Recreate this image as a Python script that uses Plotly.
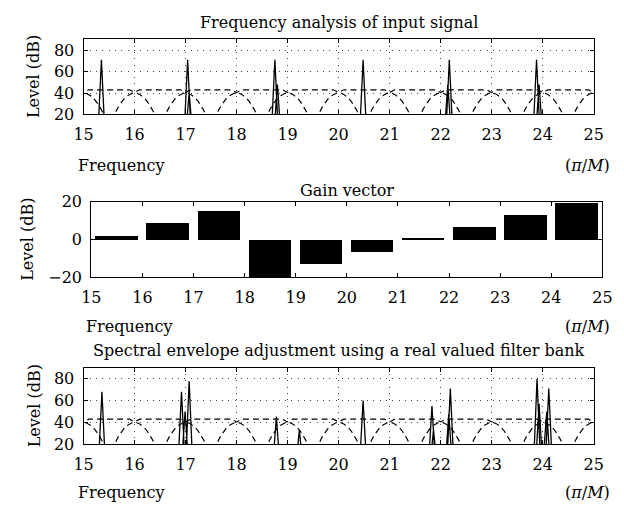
import plotly.graph_objects as go

# ---------------- data ----------------
FREQ_RANGE = [15, 25]
freq_ticks = list(range(15, 26))

# filter-bank responses (dashed arcs): centres and read shape
filter_centers = list(range(15, 26))
arc_offset = [-0.45, -0.4, -0.35, -0.3, -0.25, -0.2, -0.15, -0.1, -0.05, 0.0,
              0.05, 0.1, 0.15, 0.2, 0.25, 0.3, 0.35, 0.4, 0.45]
arc_level = [14.1, 19.5, 24.3, 28.5, 32.0, 34.9, 37.1, 38.7, 39.7, 40.0,
             39.7, 38.7, 37.1, 34.9, 32.0, 28.5, 24.3, 19.5, 14.1]

# overall (flat) envelope line, dipping slightly at filter centres
env_offset = [-0.1, 0.0, 0.1]
env_level = [43.0, 40.5, 43.0]

# input spectrum spikes (top panel)
in_spike_f = [15.35, 17.04, 17.07, 18.75, 18.80, 20.48, 22.14, 22.17, 23.88, 23.93]
in_spike_level = [71, 71, 40, 71, 48, 71, 48, 71, 71, 48]

# adjusted spectrum spikes (bottom panel)
out_spike_f = [15.36, 16.92, 16.99, 17.07, 18.78, 19.23, 20.48, 21.83, 21.86,
               22.16, 22.19, 23.89, 23.93, 24.08, 24.12]
out_spike_level = [68, 68, 50, 78, 45.5, 33, 60, 55, 33, 48, 71, 80, 57, 50, 71]

# gain vector (middle panel)
gain_band_center = [15.5, 16.5, 17.5, 18.5, 19.5, 20.5, 21.5, 22.5, 23.5, 24.5]
gain_db = [2.0, 8.8, 15.2, -19.5, -13.0, -6.6, 0.5, 6.7, 13.1, 19.5]

level_ticks_spec = [20, 40, 60, 80]
level_ticks_gain = [-20, 0, 20]

# ---------------- helpers ----------------
W, H = 624, 516
FONT = "DejaVu Serif"
FS = 16
SPIKE_HALF_BASE = 0.07
SPIKE_BASE = 0.0


def px(x):
    return x / W


def py(y):
    return 1 - y / H


def spikes_to_line(fs, ls):
    pts = sorted(zip(fs, ls))
    xs, ys = [], []
    for f, l in pts:
        xs += [f - SPIKE_HALF_BASE, f, f + SPIKE_HALF_BASE]
        ys += [SPIKE_BASE, l, SPIKE_BASE]
    return xs, ys


def arcs():
    xs, ys = [], []
    for c in filter_centers:
        xs += [c + o for o in arc_offset] + [None]
        ys += list(arc_level) + [None]
    return xs, ys


def envelope():
    xs, ys = [], []
    for c in filter_centers:
        xs += [c + o for o in env_offset]
        ys += list(env_level)
    return xs, ys


fig = go.Figure()

DASH = "6px,4px"
for ax, (sf, sl) in (("", (in_spike_f, in_spike_level)), ("3", (out_spike_f, out_spike_level))):
    xa, ya = "x" + ax, "y" + ax
    ex, ey = envelope()
    fig.add_trace(go.Scatter(x=ex, y=ey, mode="lines", xaxis=xa, yaxis=ya,
                             line=dict(color="black", width=1.2, dash=DASH),
                             showlegend=False, hoverinfo="skip"))
    axs, ays = arcs()
    fig.add_trace(go.Scatter(x=axs, y=ays, mode="lines", xaxis=xa, yaxis=ya,
                             line=dict(color="black", width=1.2, dash=DASH),
                             connectgaps=False, showlegend=False, hoverinfo="skip"))
    lx, ly = spikes_to_line(sf, sl)
    fig.add_trace(go.Scatter(x=lx, y=ly, mode="lines", xaxis=xa, yaxis=ya,
                             line=dict(color="black", width=1.3),
                             showlegend=False, hoverinfo="skip"))

fig.add_trace(go.Bar(x=gain_band_center, y=gain_db, width=0.83, xaxis="x2", yaxis="y2",
                     marker=dict(color="black", line=dict(width=0)),
                     showlegend=False, hoverinfo="skip"))

# panel pixel boxes: (x0, x1, y0_top, y1_bottom)
P1 = (76, 603, 31.5, 109.5)
P2 = (84, 612, 200, 278.5)
P3 = (76, 603, 372.5, 452)


def xaxis(p, grid, anchor):
    return dict(domain=[px(p[0]), px(p[1])], range=FREQ_RANGE, tickvals=freq_ticks,
                ticks="inside", ticklen=4, tickcolor="black", tickwidth=1,
                showline=True, linecolor="black", linewidth=1.2, mirror="ticks",
                showgrid=grid, gridcolor="#444", gridwidth=1, griddash="1px,5.3px",
                zeroline=False, anchor=anchor, ticklabelstandoff=5,
                tickfont=dict(family=FONT, size=FS, color="black"))


def yaxis(p, rng, tv, grid, anchor):
    return dict(domain=[py(p[3]), py(p[2])], range=rng, tickvals=tv,
                ticks="inside", ticklen=4, tickcolor="black", tickwidth=1,
                showline=True, linecolor="black", linewidth=1.2, mirror="ticks",
                showgrid=grid, gridcolor="#444", gridwidth=1, griddash="1px,5.3px",
                zeroline=False, anchor=anchor, ticklabelstandoff=5,
                tickfont=dict(family=FONT, size=FS, color="black"))


fig.update_layout(
    width=W, height=H, autosize=False,
    margin=dict(l=0, r=0, t=0, b=0),
    paper_bgcolor="white", plot_bgcolor="white",
    font=dict(family=FONT, size=FS, color="black"),
    xaxis=xaxis(P1, True, "y"),
    yaxis=yaxis(P1, [20, 90], level_ticks_spec, True, "x"),
    xaxis2=xaxis(P2, False, "y2"),
    yaxis2=yaxis(P2, [-20, 20], level_ticks_gain, False, "x2"),
    xaxis3=xaxis(P3, True, "y3"),
    yaxis3=yaxis(P3, [20, 90], level_ticks_spec, True, "x3"),
    bargap=0,
)

titles = [
    ("Frequency analysis of input signal", P1, 14),
    ("Gain vector", P2, 188),
    ("Spectral envelope adjustment using a real valued filter bank", P3, 355),
]
ann = []
for t, p, yc in titles:
    ann.append(dict(text=t, x=px((p[0] + p[1]) / 2), y=py(yc), xref="paper", yref="paper",
                    xanchor="center", yanchor="middle", showarrow=False,
                    font=dict(family=FONT, size=FS, color="black")))

for p, yc, xl in ((P1, 162, 68), (P2, 330, 76), (P3, 502, 68)):
    ann.append(dict(text="Frequency", x=px(xl), y=py(yc), xref="paper", yref="paper",
                    xanchor="left", yanchor="middle", showarrow=False,
                    font=dict(family=FONT, size=FS, color="black")))
    ann.append(dict(text="(<i>π</i>/<i>M</i>)", x=px(622), y=py(yc), xref="paper", yref="paper",
                    xanchor="right", yanchor="middle", showarrow=False,
                    font=dict(family=FONT, size=FS, color="black")))

for p, xc in ((P1, 25), (P2, 18), (P3, 25)):
    ann.append(dict(text="Level (dB)", x=px(xc), y=py((p[2] + p[3]) / 2), xref="paper", yref="paper",
                    xanchor="center", yanchor="middle", textangle=-90, showarrow=False,
                    font=dict(family=FONT, size=FS, color="black")))

fig.update_layout(annotations=ann)
fig.write_html("out.html")
